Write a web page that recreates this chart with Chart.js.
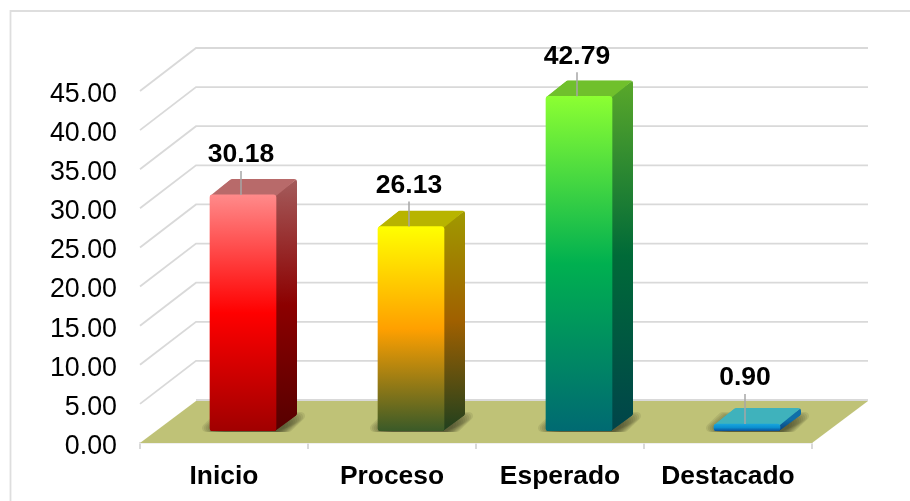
<!DOCTYPE html>
<html>
<head>
<meta charset="utf-8">
<title>Chart</title>
<script src="https://cdn.jsdelivr.net/npm/chart.js@4"></script>
<style>
  html, body { margin: 0; padding: 0; background: #fff; }
  canvas { display: block; }
</style>
</head>
<body>
<canvas id="chart" width="910" height="501"></canvas>
<script>
const categories = ['Inicio', 'Proceso', 'Esperado', 'Destacado'];
const values = [30.18, 26.13, 42.79, 0.9];
const yMax = 45;
const yStep = 5;

// front gradient per bar: top, middle, bottom
const frontColors = [
  ['#ff8a8a', '#ff0000', '#a00000'],
  ['#ffff00', '#ffa000', '#3a5a28'],
  ['#8cff32', '#00b050', '#006a72'],
  ['#19a5dc', '#0b8fd0', '#0a4f98']
];
const sideColors = [
  ['#a45c5c', '#8c0000', '#560000'],
  ['#a09a00', '#a06000', '#20401e'],
  ['#5aa82a', '#006a38', '#00444a'],
  ['#0f6fa8', '#0f6fa8', '#0a3f78']
];
const topColors = ['#b86a6a', '#b8b400', '#70c02c', '#3fb2bc'];

const ink = '#000';
const gridColor = '#d9d9d9';
const floorColor = '#bfc277';
const depthX = 56, depthY = -43;      // wall offset from the front plane
const barDx = 19, barDy = -12;        // bars sit inside the floor
const sideDx = 21, sideDy = -16;      // bar depth
const labelLift = [42, 43, 42, 48];
const fontFamily = '"Liberation Sans", Arial, sans-serif';

function barBox(chart, i) {
  const meta = chart.getDatasetMeta(0).data[i];
  const half = meta.width / 2;
  return {
    left: meta.x - half + barDx,
    right: meta.x + half + barDx,
    top: meta.y + barDy,
    bottom: chart.scales.y.getPixelForValue(0) + barDy
  };
}

function vGradient(ctx, y0, y1, stops) {
  const g = ctx.createLinearGradient(0, y0, 0, y1);
  stops.forEach((c, i) => g.addColorStop(i / (stops.length - 1), c));
  return g;
}

function poly(ctx, pts, r = 0) {
  const n = pts.length;
  ctx.beginPath();
  ctx.moveTo((pts[n - 1][0] + pts[0][0]) / 2, (pts[n - 1][1] + pts[0][1]) / 2);
  pts.forEach((p, i) => {
    const q = pts[(i + 1) % n];
    ctx.arcTo(p[0], p[1], q[0], q[1], r);
  });
  ctx.closePath();
}

const scene3d = {
  id: 'scene3d',
  beforeDraw(chart) {
    const ctx = chart.ctx;
    ctx.save();
    ctx.fillStyle = '#fff';
    ctx.fillRect(0, 0, chart.width, chart.height);
    // only the top and left edges of the frame are in the picture
    ctx.strokeStyle = '#dedede';
    ctx.lineWidth = 1.8;
    ctx.beginPath();
    ctx.moveTo(chart.width, 11);
    ctx.lineTo(10.5, 11);
    ctx.lineTo(10.5, chart.height);
    ctx.stroke();
    ctx.restore();
  },
  beforeDatasetsDraw(chart) {
    const ctx = chart.ctx;
    const { left, right } = chart.chartArea;
    const y = chart.scales.y;
    ctx.save();

    // side wall and back wall grid lines
    ctx.strokeStyle = gridColor;
    ctx.lineWidth = 1.8;
    for (let v = yStep; v <= yMax; v += yStep) {
      const py = y.getPixelForValue(v);
      ctx.beginPath();
      ctx.moveTo(left, py);
      ctx.lineTo(left + depthX, py + depthY);
      ctx.lineTo(right + depthX, py + depthY);
      ctx.stroke();
    }

    // floor
    const y0 = y.getPixelForValue(0);
    ctx.fillStyle = floorColor;
    poly(ctx, [[left, y0], [left + depthX, y0 + depthY + 1], [right + depthX, y0 + depthY + 1], [right, y0]]);
    ctx.fill();
    ctx.beginPath();
    ctx.moveTo(left + depthX, y0 + depthY);
    ctx.lineTo(right + depthX, y0 + depthY);
    ctx.stroke();

    // soft shadow under each bar, built from nested translucent shapes
    values.forEach((v, i) => {
      const b = barBox(chart, i);
      ctx.fillStyle = 'rgba(45,45,25,0.1)';
      for (let k = 0; k < 10; k++) {
        const grow = 14 - k * 1.5;
        const lift = 19 - k;
        poly(ctx, [
          [b.left - grow, b.bottom + 1],
          [b.left - grow + sideDx, b.bottom - lift],
          [b.right + grow + sideDx, b.bottom - lift],
          [b.right + grow, b.bottom + 1]
        ], 4);
        ctx.fill();
      }
    });

    // side and top faces, clipped to a rounded silhouette
    values.forEach((v, i) => {
      const b = barBox(chart, i);
      ctx.save();
      poly(ctx, [
        [b.left, b.top],
        [b.left + sideDx, b.top + sideDy],
        [b.right + sideDx, b.top + sideDy],
        [b.right + sideDx, b.bottom + sideDy],
        [b.right, b.bottom],
        [b.left, b.bottom]
      ], 3);
      ctx.clip();
      ctx.fillStyle = vGradient(ctx, b.top + sideDy, b.bottom, sideColors[i]);
      poly(ctx, [
        [b.right - 1, b.top],
        [b.right + sideDx, b.top + sideDy],
        [b.right + sideDx, b.bottom + sideDy],
        [b.right - 1, b.bottom]
      ]);
      ctx.fill();
      ctx.fillStyle = topColors[i];
      poly(ctx, [
        [b.left, b.top + 1],
        [b.left + sideDx, b.top + sideDy],
        [b.right + sideDx, b.top + sideDy],
        [b.right, b.top + 1]
      ]);
      ctx.fill();
      ctx.restore();
    });
    ctx.restore();
  },
  beforeDatasetDraw(chart) {
    chart.ctx.save();
    chart.ctx.translate(barDx, barDy);
  },
  afterDatasetDraw(chart) {
    chart.ctx.restore();
  },
  afterDatasetsDraw(chart) {
    const ctx = chart.ctx;
    ctx.save();
    values.forEach((v, i) => {
      const b = barBox(chart, i);
      const x = chart.scales.x.getPixelForValue(i) + 17;
      const labelY = b.top - labelLift[i];
      ctx.strokeStyle = '#a6a6a6';
      ctx.lineWidth = 1.5;
      ctx.beginPath();
      ctx.moveTo(x, labelY + 18);
      ctx.lineTo(x, b.top);
      ctx.stroke();
      ctx.fillStyle = ink;
      ctx.font = 'bold 26.5px ' + fontFamily;
      ctx.textAlign = 'center';
      ctx.textBaseline = 'middle';
      ctx.fillText(v.toFixed(2), x, labelY + 2);
    });
    ctx.restore();
  }
};

new Chart(document.getElementById('chart'), {
  type: 'bar',
  data: {
    labels: categories,
    datasets: [{
      data: values,
      barThickness: 66,
      borderWidth: 0,
      borderRadius: 3,
      borderSkipped: false,
      backgroundColor(c) {
        const chart = c.chart;
        if (!chart.chartArea || c.dataIndex === undefined) return frontColors[0][0];
        const y = chart.scales.y;
        return vGradient(chart.ctx, y.getPixelForValue(values[c.dataIndex]), y.getPixelForValue(0), frontColors[c.dataIndex]);
      }
    }]
  },
  options: {
    responsive: false,
    animation: false,
    layout: { padding: { top: 91, right: 98, left: 0, bottom: 0 } },
    plugins: { legend: { display: false }, tooltip: { enabled: false } },
    scales: {
      x: {
        afterFit(s) { s.height = 58; },
        grid: { drawOnChartArea: false, color: '#d9d9d9', tickLength: 6, lineWidth: 2 },
        border: { color: '#e0e0e0', width: 1.6 },
        ticks: { color: ink, padding: 12, maxRotation: 0, font: { family: fontFamily, size: 26.4, weight: 'bold' } }
      },
      y: {
        min: 0,
        max: yMax,
        afterFit(s) { s.width = 140; },
        grid: { display: false },
        border: { display: false },
        ticks: {
          stepSize: yStep,
          color: ink,
          padding: 15,
          labelOffset: 3.5,
          font: { family: fontFamily, size: 26.8 },
          callback: v => v.toFixed(2)
        }
      }
    }
  },
  plugins: [scene3d]
});
</script>
</body>
</html>
